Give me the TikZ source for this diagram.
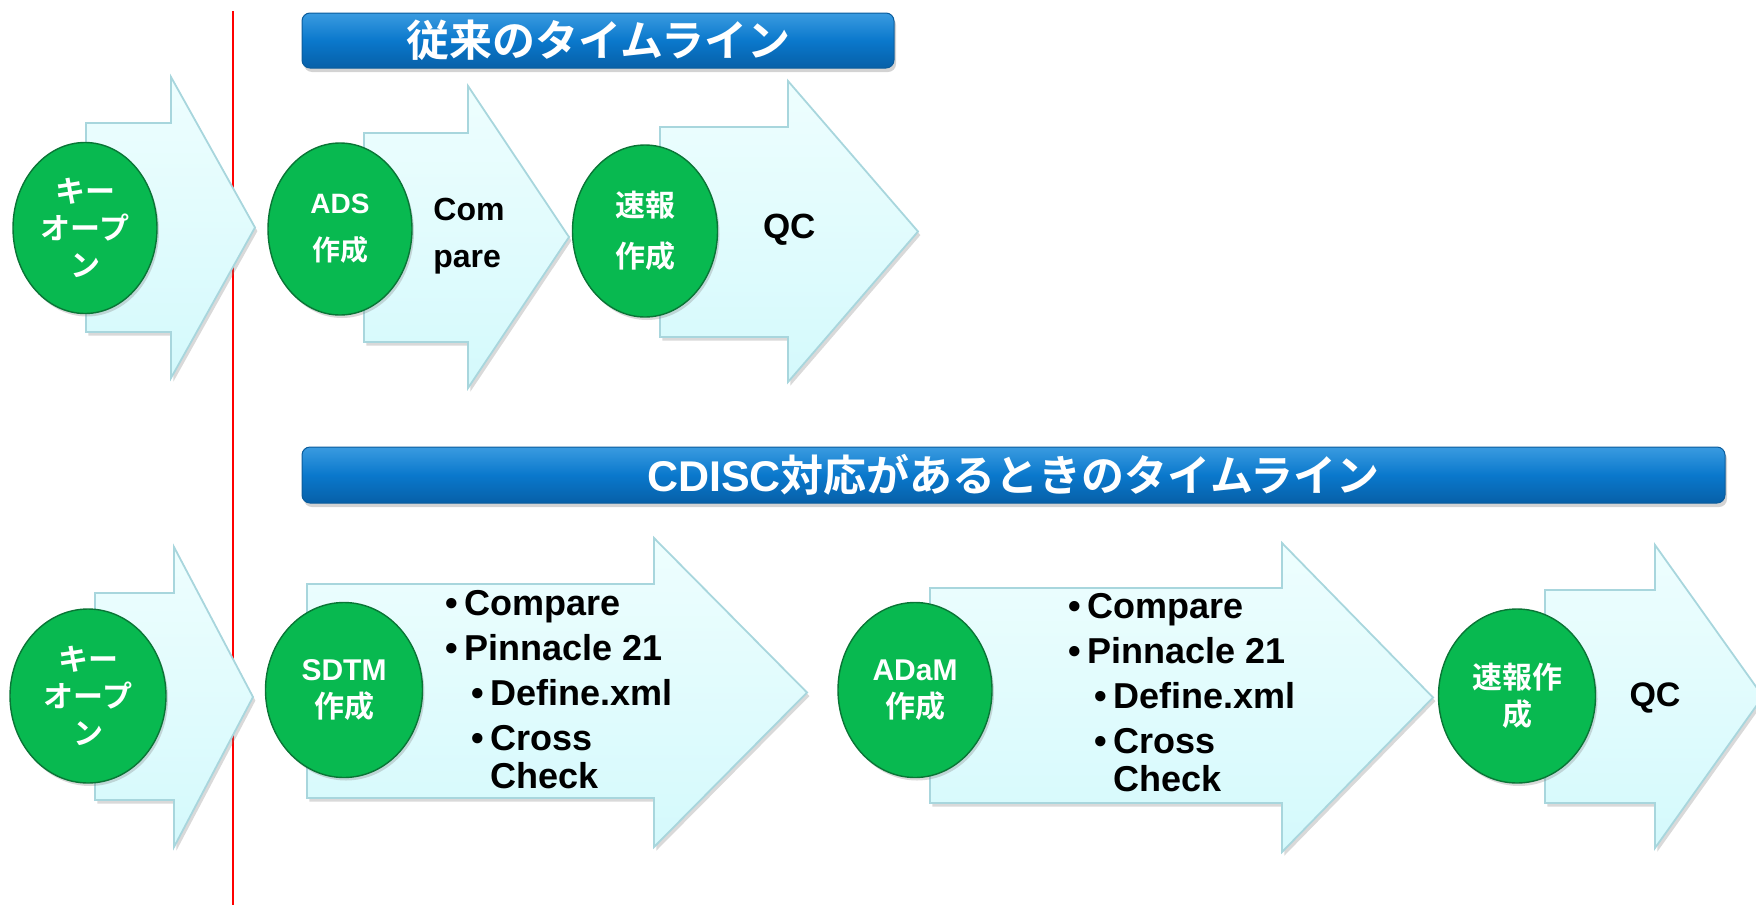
\documentclass[tikz,border=0pt]{standalone}
\usepackage{fontspec}
\setmainfont{Liberation Sans}
\newfontfamily\jp{Noto Sans CJK JP}[BoldFont={Noto Sans CJK JP Bold}]
\usepackage{xcolor}
\usetikzlibrary{shapes.geometric,shadows,positioning}

\definecolor{ballmid}{HTML}{08B950}
\definecolor{ballrim}{HTML}{0A7536}
\definecolor{arrowtop}{HTML}{EEFEFE}
\definecolor{arrowbot}{HTML}{D4F9FC}
\definecolor{arrowedge}{HTML}{A8D6DD}
\definecolor{bantop}{HTML}{3A9BE0}
\definecolor{banmid}{HTML}{0A78CC}
\definecolor{banbot}{HTML}{0760A8}
\definecolor{banedge}{HTML}{0A5C9C}

\pgfdeclareradialshading{ballshade}{\pgfpoint{0bp}{0bp}}{color(0bp)=(ballmid); color(38bp)=(ballmid); color(46bp)=(ballmid!65!ballrim); color(50bp)=(ballrim)}

% left, head base, tip, body top, body bottom, head top, head bottom
\newcommand{\flowarrow}[7]{%
  \path[arrowshape] (#1,#4) -- (#2,#4) -- (#2,#6) -- (#3,{(#6+#7)/2})
    -- (#2,#7) -- (#2,#5) -- (#1,#5) -- cycle;}

\begin{document}
\begin{tikzpicture}[
    x=0.5pt, y=-0.5pt,
    arrowshape/.style={top color=arrowtop, bottom color=arrowbot, draw=arrowedge,
        line width=0.9pt, drop shadow={shadow xshift=1.2pt, shadow yshift=-1.8pt, opacity=0.3}},
    ball/.style={ellipse, shading=ballshade, draw=ballrim, line width=0.7pt, inner sep=0pt,
        text=white, align=center, font=\bfseries\fontsize{15}{18.5}\selectfont,
        drop shadow={shadow xshift=1pt, shadow yshift=-1.5pt, opacity=0.3}},
    banner/.style={rounded corners=4pt, top color=bantop, bottom color=banbot, middle color=banmid,
        draw=banedge, line width=0.5pt, text=white, font=\bfseries\fontsize{21.5}{25}\selectfont,
        drop shadow={shadow xshift=1pt, shadow yshift=-2pt, opacity=0.35}},
    lbl/.style={inner sep=0pt, align=left, font=\bfseries\fontsize{16}{23.5}\selectfont},
    bul/.style={anchor=base west, inner sep=0pt, font=\bfseries\fontsize{18}{22}\selectfont},
]
\useasboundingbox (0,0) rectangle (1756,905);
\clip (0,0) rectangle (1756,905);

\coordinate (rtop) at (233,11);
\coordinate (rbot) at (233,905);
\draw[red, line width=0.8pt] (rtop) -- (rbot);

% conventional
\node[banner, minimum width=296pt, minimum height=27.5pt] (ban1) at (598,40.5) {\jp 従来のタイムライン};

\flowarrow{86}{171}{255}{123}{332}{77}{378}
\node[ball, minimum width=72pt, minimum height=85.5pt] (key1) at (85,228) {\jp キー\\\jp オープ\\\jp ン};

\flowarrow{364}{468}{569}{133}{342}{86}{388}
\node[ball, minimum width=72pt, minimum height=86pt, font=\bfseries\fontsize{14}{18.5}\selectfont] (ads) at (340,229) {ADS\\[5pt]\jp 作成};
\node[lbl, anchor=west] (cmp1) at (433,236) {Com\\pare};

\flowarrow{660}{788}{918}{127}{337}{81}{382}
\node[ball, minimum width=72.5pt, minimum height=86pt] (sok1) at (645,231) {\jp 速報\\[7pt]\jp 作成};
\node[lbl, font=\bfseries\fontsize{17.5}{20}\selectfont] (qc1) at (790,230) {QC};

% CDISC
\node[banner, minimum width=711.5pt, minimum height=28pt] (ban2) at (1013.5,475) {CDISC{\jp 対応があるときのタイムライン}};

\flowarrow{95}{174}{253}{593}{800}{547}{847}
\node[ball, minimum width=78pt, minimum height=87pt] (key2) at (88,696) {\jp キー\\\jp オープ\\\jp ン};

\flowarrow{307}{654}{807}{584}{798}{538}{847}
\node[ball, minimum width=78.5pt, minimum height=87.5pt] (sdtm) at (344,690) {SDTM\\\jp 作成};
\node[bul] (sdtmCmp) at (445,615) {\makebox[9.5pt][l]{\textbullet}Compare};
\node[bul] (sdtmP21) at ([yshift=-22.5pt]sdtmCmp.base west) {\makebox[9.5pt][l]{\textbullet}Pinnacle 21};
\node[bul] (sdtmDef) at ([xshift=13pt,yshift=-22.5pt]sdtmP21.base west) {\makebox[9.5pt][l]{\textbullet}Define.xml};
\node[bul] (sdtmCross) at ([yshift=-22.5pt]sdtmDef.base west) {\makebox[9.5pt][l]{\textbullet}Cross};
\node[bul] (sdtmCheck) at ([xshift=9.5pt,yshift=-19pt]sdtmCross.base west) {Check};

\flowarrow{930}{1282}{1433}{588}{803}{543}{852}
\node[ball, minimum width=77pt, minimum height=87.5pt] (adam) at (915,690) {ADaM\\\jp 作成};
\node[bul] (adamCmp) at (1068,618) {\makebox[9.5pt][l]{\textbullet}Compare};
\node[bul] (adamP21) at ([yshift=-22.5pt]adamCmp.base west) {\makebox[9.5pt][l]{\textbullet}Pinnacle 21};
\node[bul] (adamDef) at ([xshift=13pt,yshift=-22.5pt]adamP21.base west) {\makebox[9.5pt][l]{\textbullet}Define.xml};
\node[bul] (adamCross) at ([yshift=-22.5pt]adamDef.base west) {\makebox[9.5pt][l]{\textbullet}Cross};
\node[bul] (adamCheck) at ([xshift=9.5pt,yshift=-19pt]adamCross.base west) {Check};

\flowarrow{1545}{1655}{1763}{590}{803}{545}{848}
\node[ball, minimum width=78.5pt, minimum height=87pt] (sok2) at (1517,696) {\jp 速報作\\\jp 成};
\node[lbl, font=\bfseries\fontsize{17}{20}\selectfont] (qc2) at (1655,698) {QC};
\end{tikzpicture}
\end{document}
